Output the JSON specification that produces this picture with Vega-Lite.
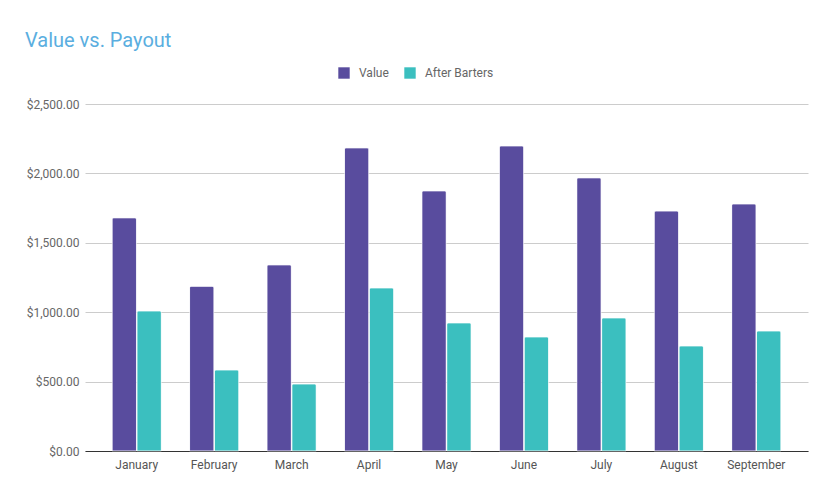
{
  "$schema": "https://vega.github.io/schema/vega-lite/v6.json",
  "autosize": {"type": "none"},
  "width": 723,
  "height": 347,
  "padding": {"left": 85, "top": 104, "right": 24, "bottom": 46},
  "background": "white",
  "title": {
    "text": "Value vs. Payout",
    "anchor": "start",
    "frame": "group",
    "dx": -60,
    "offset": 16,
    "font": "Roboto",
    "fontSize": 20,
    "fontWeight": "normal",
    "color": "#5aaee0"
  },
  "config": {
    "view": {"stroke": null},
    "font": "Roboto"
  },
  "data": {
    "values": [
      {"month": "January", "series": "Value", "amount": 1680},
      {"month": "January", "series": "After Barters", "amount": 1009},
      {"month": "February", "series": "Value", "amount": 1187},
      {"month": "February", "series": "After Barters", "amount": 584},
      {"month": "March", "series": "Value", "amount": 1341},
      {"month": "March", "series": "After Barters", "amount": 483},
      {"month": "April", "series": "Value", "amount": 2184},
      {"month": "April", "series": "After Barters", "amount": 1175},
      {"month": "May", "series": "Value", "amount": 1874},
      {"month": "May", "series": "After Barters", "amount": 923},
      {"month": "June", "series": "Value", "amount": 2198},
      {"month": "June", "series": "After Barters", "amount": 822},
      {"month": "July", "series": "Value", "amount": 1968},
      {"month": "July", "series": "After Barters", "amount": 959},
      {"month": "August", "series": "Value", "amount": 1729},
      {"month": "August", "series": "After Barters", "amount": 757},
      {"month": "September", "series": "Value", "amount": 1780},
      {"month": "September", "series": "After Barters", "amount": 865}
    ]
  },
  "mark": {"type": "bar", "cornerRadiusTopLeft": 2, "cornerRadiusTopRight": 2, "stroke": "white", "strokeWidth": 0.5},
  "encoding": {
    "x": {
      "field": "month",
      "type": "nominal",
      "sort": null,
      "scale": {"paddingInner": 0.364, "paddingOuter": 0.35},
      "axis": {
        "title": null,
        "labelAngle": 0,
        "labelFont": "Roboto",
        "labelFontSize": 12,
        "labelColor": "#555555",
        "ticks": false,
        "domainColor": "#333333",
        "domainWidth": 1,
        "labelPadding": 8,
        "grid": false
      }
    },
    "xOffset": {"field": "series", "type": "nominal", "sort": ["Value", "After Barters"], "scale": {"paddingInner": 0.02}},
    "y": {
      "field": "amount",
      "type": "quantitative",
      "scale": {"domain": [0, 2500], "nice": false},
      "axis": {
        "title": null,
        "values": [0, 500, 1000, 1500, 2000, 2500],
        "format": "$,.2f",
        "labelFont": "Roboto",
        "labelFontSize": 12,
        "labelColor": "#666666",
        "ticks": false,
        "domain": false,
        "gridColor": "#cccccc",
        "labelPadding": 6
      }
    },
    "color": {
      "field": "series",
      "type": "nominal",
      "sort": ["Value", "After Barters"],
      "scale": {"domain": ["Value", "After Barters"], "range": ["#594c9e", "#3bbfbf"]},
      "legend": {
        "title": null,
        "orient": "none",
        "direction": "horizontal",
        "legendX": 253,
        "legendY": -37,
        "symbolType": "square",
        "symbolSize": 130,
        "symbolStrokeWidth": 0,
        "symbolOpacity": 1,
        "labelFont": "Roboto",
        "labelFontSize": 12,
        "labelColor": "#666666",
        "columnPadding": 15,
        "labelOffset": 9
      }
    }
  }
}
